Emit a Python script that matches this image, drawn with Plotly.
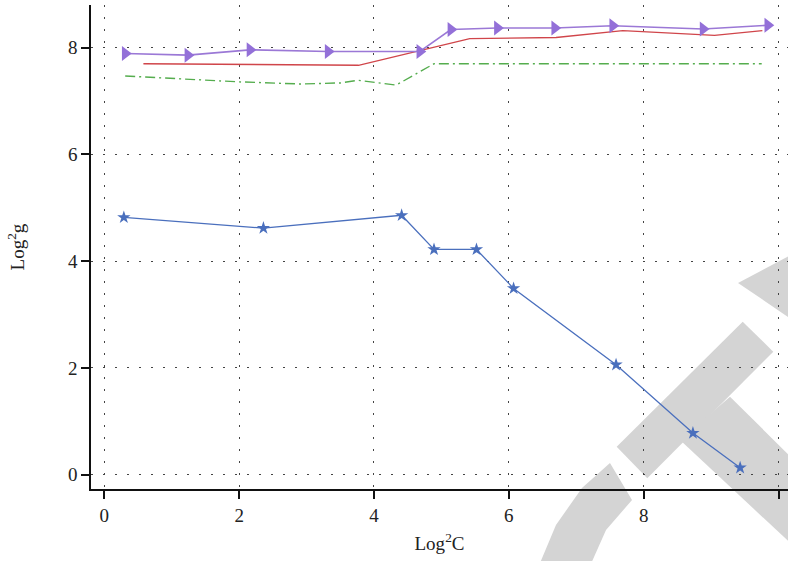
import plotly.graph_objects as go

# ---- data ----
blue_x = [0.29, 2.36, 4.41, 4.89, 5.52, 6.07, 7.59, 8.73, 9.43]
blue_y = [4.82, 4.62, 4.86, 4.22, 4.22, 3.49, 2.06, 0.78, 0.13]

purple_x = [0.31, 1.24, 2.16, 3.32, 4.68, 5.14, 5.83, 6.68, 7.54, 8.88, 9.84]
purple_y = [7.89, 7.86, 7.96, 7.93, 7.93, 8.34, 8.37, 8.37, 8.41, 8.35, 8.42]

red_x = [0.58, 3.77, 5.42, 6.70, 7.69, 9.05, 9.76]
red_y = [7.70, 7.67, 8.17, 8.19, 8.32, 8.23, 8.32]

green_x = [0.31, 2.00, 2.90, 3.50, 3.76, 4.33, 4.89, 9.75]
green_y = [7.47, 7.36, 7.32, 7.34, 7.39, 7.30, 7.70, 7.70]

x_ticks = [0, 2, 4, 6, 8, 10]
y_ticks = [0, 2, 4, 6, 8]

FONT = "Liberation Serif, Times New Roman, serif"
W, H = 788, 561
ML, MR, MT, MB = 91, 0, 5, 72

fig = go.Figure()

fig.add_trace(go.Scatter(x=green_x, y=green_y, mode="lines",
                         line=dict(color="#55ad4e", width=1.4, dash="10px,4px,2px,4px")))
fig.add_trace(go.Scatter(x=red_x, y=red_y, mode="lines",
                         line=dict(color="#d0454a", width=1.4)))
fig.add_trace(go.Scatter(x=purple_x, y=purple_y, mode="lines+markers",
                         line=dict(color="#9b78d6", width=1.6),
                         marker=dict(symbol="triangle-right", size=13, color="#9370d8")))
fig.add_trace(go.Scatter(x=blue_x, y=blue_y, mode="lines+markers",
                         line=dict(color="#4a6fbd", width=1.3),
                         marker=dict(symbol="star", size=10, color="#4a6fbd")))

# watermark (decoration, pixel positions converted to paper coords)
def P(px, py):
    return (px - ML) / (W - ML - MR), (H - MB - py) / (H - MT - MB)

def path(pts):
    s = ""
    for i, (px, py) in enumerate(pts):
        x, y = P(px, py)
        s += ("M" if i == 0 else "L") + f"{x:.4f},{y:.4f} "
    return s + "Z"

wm = [
    [(616.7, 446.7), (647.3, 478.3), (773.3, 351.7), (742.7, 321.7)],
    [(730, 396.7), (800, 466), (800, 552), (680, 440)],
    [(535, 575), (556, 525), (582, 488), (610, 463), (632, 500), (606, 530), (586, 575)],
    [(738, 283), (800, 250), (800, 325)],
]
shapes = [dict(type="path", xref="paper", yref="paper", path=path(p),
               fillcolor="#d4d4d4", line=dict(width=0), layer="below") for p in wm]

axis_common = dict(
    showline=True, linecolor="#111", linewidth=1.6,
    ticks="outside", ticklen=8, tickwidth=1.5, tickcolor="#111",
    showgrid=True, gridcolor="#444", gridwidth=1, griddash="2px,10px",
    zeroline=False, tickfont=dict(family=FONT, size=19, color="#222"),
    mirror=False,
)

fig.update_layout(
    width=W, height=H,
    margin=dict(l=ML, r=MR, t=MT, b=MB),
    paper_bgcolor="white", plot_bgcolor="rgba(0,0,0,0)",
    showlegend=False,
    shapes=shapes,
    xaxis=dict(range=[-0.197, 10.14], tickvals=x_ticks,
               title=dict(text="Log<sup>2</sup>C", font=dict(family=FONT, size=19, color="#222"), standoff=12),
               **axis_common),
    yaxis=dict(range=[-0.268, 8.80], tickvals=y_ticks,
               title=dict(text="Log<sup>2</sup>g", font=dict(family=FONT, size=19, color="#222"), standoff=38),
               **axis_common),
)

fig.write_html("out.html")
